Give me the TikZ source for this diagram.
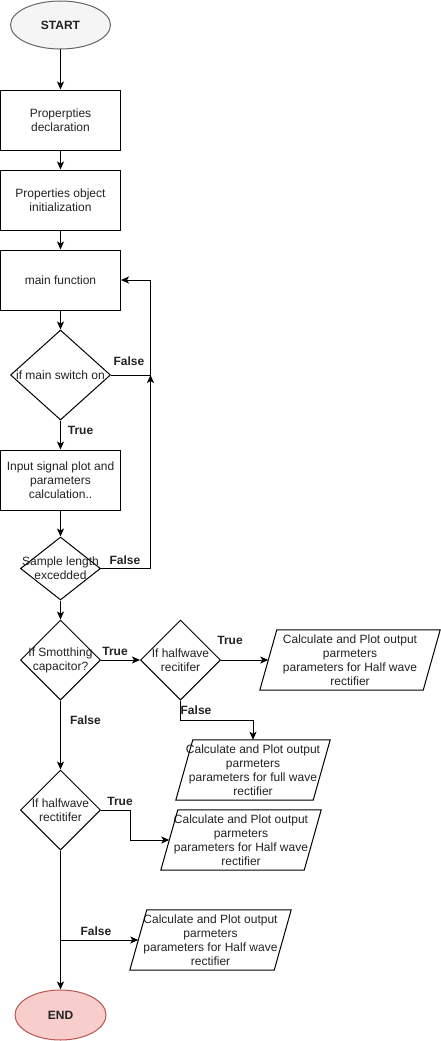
\documentclass[tikz,border=0pt]{standalone}
\usepackage{fontspec}
\setmainfont{Liberation Sans}
\usetikzlibrary{shapes.geometric, arrows.meta}
\definecolor{startfill}{HTML}{F5F5F5}
\definecolor{startline}{HTML}{666666}
\definecolor{endfill}{HTML}{F8CECC}
\definecolor{endline}{HTML}{B85450}
\definecolor{ink}{HTML}{222222}
% outline of a slanted input/output block around a named node
\newcommand\paraoutline[1]{%
  \draw[line width=1pt, line join=miter]
    ([xshift=17pt]#1.north west) -- (#1.north east)
    -- ([xshift=-17pt]#1.south east) -- (#1.south west) -- cycle;}
\begin{document}
\begin{tikzpicture}[x=1pt,y=-1pt,
  font=\fontsize{12}{14}\selectfont,
  base/.style={draw=black, line width=1pt, text=ink, align=center},
  term/.style={ellipse, line width=1pt, inner sep=0pt, text=ink,
    font=\fontsize{12}{14}\selectfont\bfseries},
  procbox/.style={base, rectangle, minimum width=120pt, minimum height=60pt, inner sep=0pt},
  decision/.style={base, diamond, inner sep=0pt},
  iobox/.style={rectangle, minimum height=60pt, inner sep=0pt, align=center, text=ink},
  txt/.style={align=center, text=ink, inner sep=0pt},
  flow/.style={draw, line width=1pt, -{Stealth[length=8pt,width=7pt,inset=2pt]}},
  tag/.style={font=\fontsize{12}{14}\selectfont\bfseries, text=ink, inner sep=1pt}
]
\useasboundingbox (0,0) rectangle (441,1041);

% terminals and process steps
\node[term, draw=startline, fill=startfill, minimum width=100pt, minimum height=48pt] (start) at (60.5,25) {START};
\node[procbox] (b1) at (60.5,120) {Properpties\\declaration};
\node[procbox] (b2) at (60.5,200) {Properties object\\initialization};
\node[procbox] (b3) at (60.5,280) {main function};
\node[decision, minimum width=100pt, minimum height=90pt] (d1) at (60.5,375) {};
\node[txt] (d1t) at (d1) {if main switch on};
\node[procbox] (b4) at (60.5,480) {Input signal plot and\\parameters\\calculation..};
\node[decision, minimum width=80pt, minimum height=63pt] (d2) at (60.5,568.5) {};
\node[txt] (d2t) at (d2) {Sample length\\excedded};
\node[decision, minimum width=80pt, minimum height=80pt] (d3) at (60.5,660) {};
\node[txt] (d3t) at (d3) {If Smotthing\\capacitor?};
\node[decision, minimum width=80pt, minimum height=80pt] (d4) at (180.5,660) {};
\node[txt] (d4t) at (d4) {If halfwave\\recitifer};
\node[decision, minimum width=80pt, minimum height=80pt] (d5) at (60.5,810) {};
\node[txt] (d5t) at (d5) {If halfwave\\rectitifer};
\node[term, draw=endline, fill=endfill, minimum width=91pt, minimum height=50pt] (end) at (60.5,1015) {END};

% output blocks
\node[iobox, minimum width=180pt] (p1) at (350,660) {Calculate and Plot output\\parmeters\\parameters for Half wave\\rectifier};
\node[iobox, minimum width=154pt] (p2) at (253,770) {Calculate and Plot output\\parmeters\\parameters for full wave\\rectifier};
\node[iobox, minimum width=160pt] (p3) at (241,840) {Calculate and Plot output\\parmeters\\parameters for Half wave\\rectifier};
\node[iobox, minimum width=161pt] (p4) at (210.5,940) {Calculate and Plot output\\parmeters\\parameters for Half wave\\rectifier};
\paraoutline{p1}
\paraoutline{p2}
\paraoutline{p3}
\paraoutline{p4}

% bends and entry points
\coordinate (loopjoin) at (150.5,375);
\coordinate (loopturn) at (150.5,280);
\coordinate (d4drop) at (180.5,720);
\coordinate (d5bend) at (130.5,810);
\coordinate (tap) at (60.5,940);
\coordinate (p1in) at ([xshift=8.5pt]p1.west);
\coordinate (p3in) at ([xshift=8.5pt]p3.west);
\coordinate (p4in) at ([xshift=8.5pt]p4.west);

% main sequence
\path[flow] (start) -- (b1);
\path[flow] (b1) -- (b2);
\path[flow] (b2) -- (b3);
\path[flow] (b3) -- (d1);
\path[flow] (d1) -- (b4);
\path[flow] (b4) -- (d2);
\path[flow] (d2) -- (d3);
\path[flow] (d3) -- (d5);
\path[flow] (d5) -- (end);

% loop back to main function
\path[flow] (d1.east) -- (loopjoin) -- (loopturn) -- (b3.east);
\path[flow] (d2.east) -| (loopjoin);

% branches
\path[flow] (d3.east) -- (d4.west);
\path[flow] (d4.east) -- (p1in);
\path[flow] (d4.south) -- (d4drop) -| (p2.north);
\path[flow] (d5.east) -- (d5bend) |- (p3in);
\path[flow] (tap) -- (p4in);

% edge labels
\node[tag] (l1) at (129,361) {False};
\node[tag] (l2) at (80.5,430) {True};
\node[tag] (l3) at (125,560) {False};
\node[tag] (l4) at (115,651) {True};
\node[tag] (l5) at (230,640) {True};
\node[tag] (l6) at (196,710) {False};
\node[tag] (l7) at (85.5,720) {False};
\node[tag] (l8) at (120,801) {True};
\node[tag] (l9) at (96,931) {False};
\end{tikzpicture}
\end{document}
